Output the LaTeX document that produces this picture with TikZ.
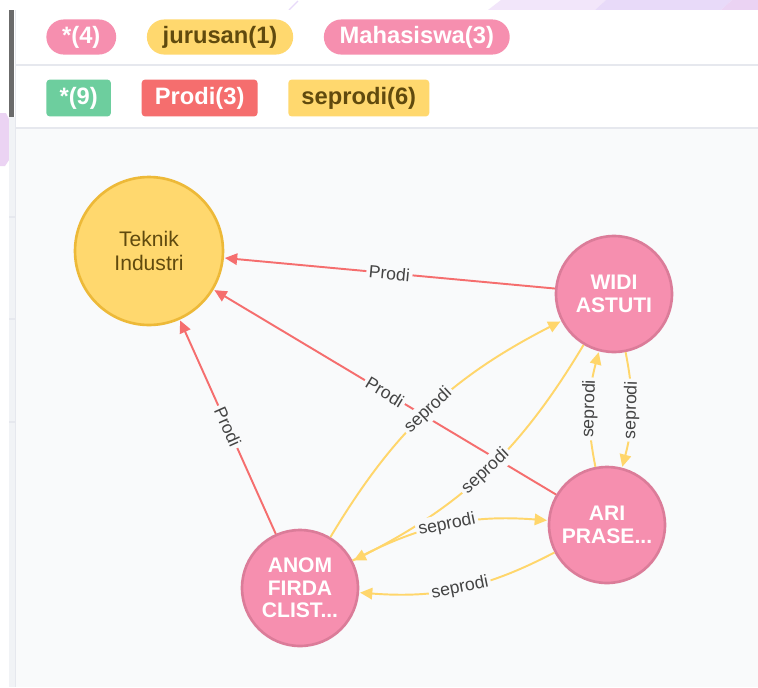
\documentclass[tikz,border=0pt]{standalone}
\usepackage{fontspec}
\setmainfont{Liberation Sans}
\usetikzlibrary{arrows.meta,positioning}

\definecolor{pinkfill}{HTML}{F68FAF}
\definecolor{pinkline}{HTML}{DB7C99}
\definecolor{yellowfill}{HTML}{FFD86E}
\definecolor{yellowline}{HTML}{EDB938}
\definecolor{yellowtext}{HTML}{604A0E}
\definecolor{prodired}{HTML}{F56E6E}
\definecolor{seprodiyellow}{HTML}{FFD66B}
\definecolor{greenfill}{HTML}{6DCE9E}
\definecolor{graphbg}{HTML}{F9FAFB}
\definecolor{rulegray}{HTML}{E6E8EE}
\definecolor{labelgray}{HTML}{444444}
\definecolor{lilac}{HTML}{F2E6FA}
\definecolor{lavender}{HTML}{E8DAF9}
\definecolor{orchid}{HTML}{EBD3F3}

\begin{document}
\begin{tikzpicture}[
  x=0.02cm, y=-0.02cm,
  node distance=0.6cm,
  every node/.style={align=center},
  pill/.style={rectangle, rounded corners=10pt, minimum height=20pt, inner xsep=9pt, inner ysep=0pt, font=\bfseries\fontsize{13.5}{15}\selectfont},
  tag/.style={rectangle, rounded corners=2pt, minimum height=21pt, inner xsep=7.5pt, inner ysep=0pt, font=\bfseries\fontsize{13.5}{15}\selectfont},
  jurusan/.style={circle, draw=yellowline, line width=1.5pt, fill=yellowfill, minimum size=2.96cm, inner sep=0pt, text=yellowtext, font=\fontsize{12}{13.5}\selectfont},
  mhs/.style={circle, draw=pinkline, line width=1.5pt, fill=pinkfill, minimum size=2.32cm, inner sep=0pt, text=white, font=\bfseries\fontsize{12}{12.8}\selectfont},
  prodi/.style={-{Triangle[length=7pt,width=6.5pt]}, draw=prodired, line width=1.1pt, shorten >=0.5pt},
  seprodi/.style={-{Triangle[length=7pt,width=6.5pt]}, draw=seprodiyellow, line width=1.1pt, shorten >=0.5pt},
  elabel/.style={midway, sloped, fill=graphbg, inner sep=1.5pt, text=labelgray, font=\fontsize{10}{12}\selectfont}
]
\useasboundingbox (0,0) rectangle (758,687);

% --- BACKGROUND ---
\fill[white] (0,0) rectangle (758,687);
\fill[lilac] (488,10) -- (501,0) -- (606,0) -- (595,10) -- cycle;
\fill[lavender] (595,10) -- (606,0) -- (732,0) -- (721,10) -- cycle;
\fill[orchid] (721,10) -- (732,0) -- (758,0) -- (758,10) -- cycle;
\draw[lavender, line width=0.8pt] (289,10) -- (298,1);
\fill[orchid] (0,113) -- (6,113) -- (9,119) -- (9,160) -- (5,166) -- (0,166) -- cycle;
\fill[white] (9,10) rectangle (758,129);
\fill[graphbg] (16,129) rectangle (758,687);
\fill[graphbg!60!rulegray] (9,117) rectangle (15,687);
\draw[rulegray, line width=1pt] (15.5,10) -- (15.5,687);
\draw[rulegray, line width=1pt] (16,65) -- (758,65);
\draw[rulegray, line width=1pt] (16,128) -- (758,128);
\foreach \ty in {217,319,422}
  \draw[rulegray, line width=0.8pt] (9,\ty) -- (15,\ty);
\fill[black!58] (9,10) rectangle (14,117);

% --- LEGEND ---
\node[pill, fill=pinkfill, text=white, anchor=west] (allnodes) at (46,37) {*(4)};
\node[pill, fill=yellowfill, text=yellowtext, right=of allnodes] (jurusanbadge) {jurusan(1)};
\node[pill, fill=pinkfill, text=white, right=of jurusanbadge] (mhsbadge) {Mahasiswa(3)};

\node[tag, fill=greenfill, text=white, anchor=west] (allrels) at (46,98) {*(9)};
\node[tag, fill=prodired, text=white, right=of allrels] (prodibadge) {Prodi(3)};
\node[tag, fill=yellowfill, text=yellowtext, right=of prodibadge] (seprodibadge) {seprodi(6)};

% --- GRAPH NODES ---
\node[jurusan] (teknik) at (149,251) {Teknik\\Industri};
\node[mhs] (widi) at (614,294) {WIDI\\ASTUTI};
\node[mhs] (ari) at (607,525) {ARI\\PRASE...};
\node[mhs] (anom) at (300,588) {ANOM\\FIRDA\\CLIST...};

% Prodi relations
\draw[prodi] (widi) -- node[elabel] {Prodi} (teknik);
\draw[prodi] (ari) -- node[elabel] {Prodi} (teknik);
\draw[prodi] (anom) -- node[elabel] {Prodi} (teknik);

% seprodi relations
\draw[seprodi] (anom) to[bend left=16] node[elabel] {seprodi} (widi);
\draw[seprodi] (widi) to[bend left=16] node[elabel] {seprodi} (anom);
\draw[seprodi] (ari) to[bend left=13] node[elabel] {seprodi} (widi);
\draw[seprodi] (widi) to[bend left=13] node[elabel] {seprodi} (ari);
\draw[seprodi] (anom) to[bend left=16] node[elabel] {seprodi} (ari);
\draw[seprodi] (ari) to[bend left=16] node[elabel] {seprodi} (anom);

\end{tikzpicture}
\end{document}
